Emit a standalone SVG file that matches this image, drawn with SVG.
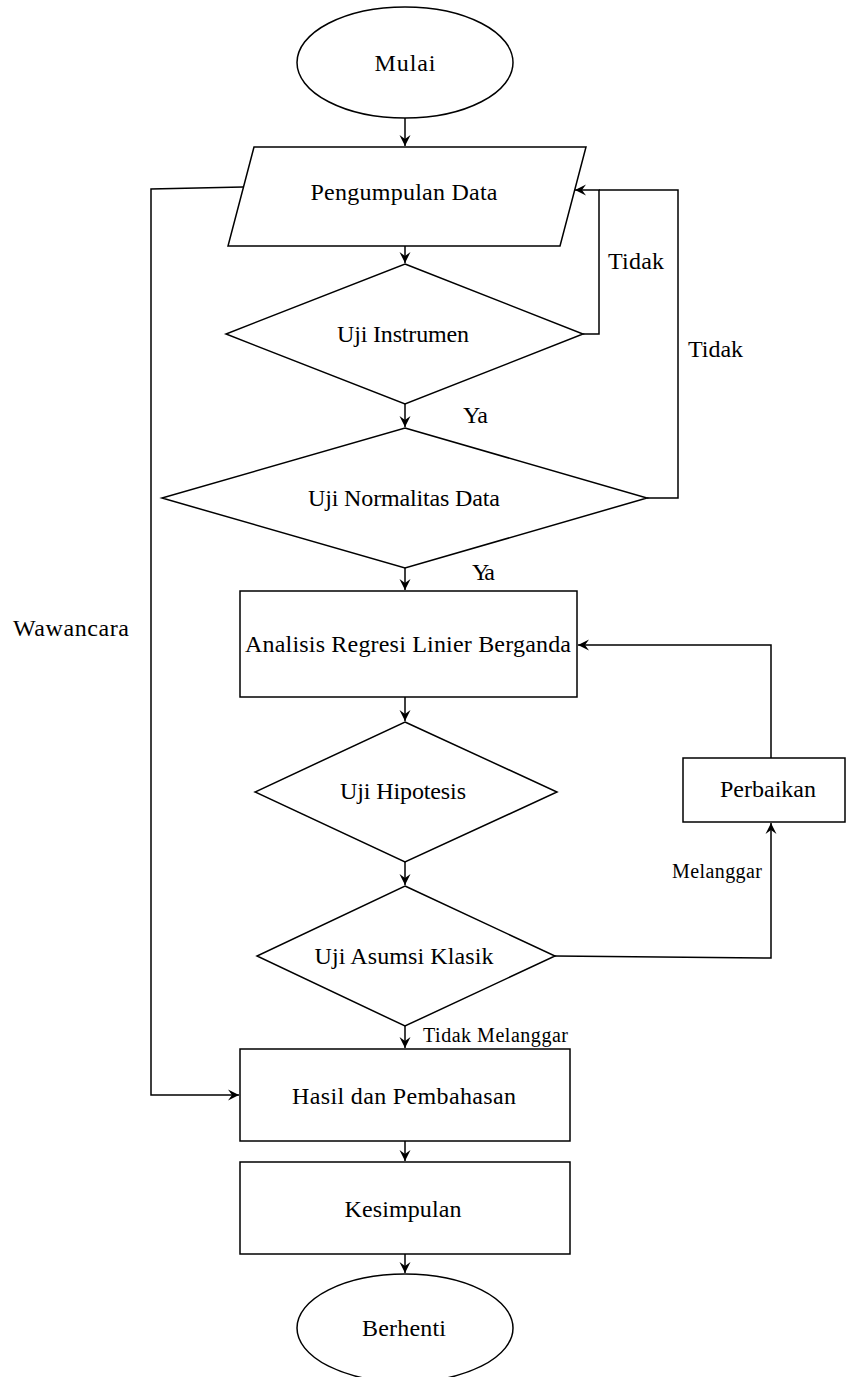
<svg xmlns="http://www.w3.org/2000/svg" width="846" height="1377" viewBox="0 0 846 1377">
<style>
.n{fill:#fff;stroke:#000;stroke-width:1.5}
.c{fill:none;stroke:#000;stroke-width:1.5}
text{font-family:"Liberation Serif","Times New Roman",serif;font-size:24px;fill:#000}
.m{text-anchor:middle}
.s{font-size:20px}
</style>
<defs>
<marker id="a" markerUnits="userSpaceOnUse" markerWidth="14" markerHeight="14" viewBox="-12 -7 14 14" refX="0" refY="0" orient="auto">
<path d="M0,0 L-11,-5.5 L-7,0 L-11,5.5 Z" fill="#000"/>
</marker>
</defs>
<rect width="846" height="1377" fill="#fff"/>
<g id="connectors">
<path class="c" d="M405,118 V146" marker-end="url(#a)"/>
<path class="c" d="M405,246 V263" marker-end="url(#a)"/>
<path class="c" d="M405,404 V427" marker-end="url(#a)"/>
<path class="c" d="M405,568 V590" marker-end="url(#a)"/>
<path class="c" d="M405,697 V721" marker-end="url(#a)"/>
<path class="c" d="M405,862 V885" marker-end="url(#a)"/>
<path class="c" d="M405,1026 V1048" marker-end="url(#a)"/>
<path class="c" d="M405,1141 V1161" marker-end="url(#a)"/>
<path class="c" d="M405,1254 V1273" marker-end="url(#a)"/>
<path class="c" d="M583,334 H599 V190 H575" marker-end="url(#a)"/>
<path class="c" d="M647,498 H678 V190 H599"/>
<path class="c" d="M555,956 L771,958 V823" marker-end="url(#a)"/>
<path class="c" d="M771,758 V645 H578" marker-end="url(#a)"/>
<path class="c" d="M243,187 L151,189 V1095 H239" marker-end="url(#a)"/>
<text x="608" y="269" textLength="56">Tidak</text>
<text x="688" y="357" textLength="55">Tidak</text>
<text x="463" y="423" textLength="25">Ya</text>
<text x="472" y="580" textLength="23">Ya</text>
<text x="13" y="636" textLength="116">Wawancara</text>
<text class="s" x="672" y="878" textLength="90">Melanggar</text>
<text class="s" x="423" y="1042" textLength="145">Tidak Melanggar</text>
</g>
<g id="mulai">
<ellipse class="n" cx="405" cy="62.5" rx="108" ry="55.5"/>
<text class="m" x="405" y="71" textLength="61">Mulai</text>
</g>
<g id="pengumpulan">
<polygon class="n" points="254,147 586,147 560,246 228,246"/>
<text class="m" x="404" y="200" textLength="187">Pengumpulan Data</text>
</g>
<g id="instrumen">
<polygon class="n" points="405,264 583,334 405,404 226,334"/>
<text class="m" x="403" y="342" textLength="132">Uji Instrumen</text>
</g>
<g id="normalitas">
<polygon class="n" points="405,428 647,498 405,568 162,498"/>
<text class="m" x="404" y="506" textLength="192">Uji Normalitas Data</text>
</g>
<g id="analisis">
<rect class="n" x="240" y="591" width="337" height="106"/>
<text class="m" x="408" y="652" textLength="326">Analisis Regresi Linier Berganda</text>
</g>
<g id="hipotesis">
<polygon class="n" points="405,722 557,792 405,862 255,792"/>
<text class="m" x="403" y="799" textLength="126">Uji Hipotesis</text>
</g>
<g id="perbaikan">
<rect class="n" x="683" y="758" width="162" height="64"/>
<text class="m" x="768" y="797" textLength="96">Perbaikan</text>
</g>
<g id="asumsi">
<polygon class="n" points="405,886 555,956 405,1026 257,956"/>
<text class="m" x="404" y="964" textLength="179">Uji Asumsi Klasik</text>
</g>
<g id="hasil">
<rect class="n" x="240" y="1049" width="330" height="92"/>
<text class="m" x="404" y="1104" textLength="224">Hasil dan Pembahasan</text>
</g>
<g id="kesimpulan">
<rect class="n" x="240" y="1162" width="330" height="92"/>
<text class="m" x="403" y="1217" textLength="117">Kesimpulan</text>
</g>
<g id="berhenti">
<ellipse class="n" cx="405" cy="1328" rx="108" ry="54"/>
<text class="m" x="404" y="1336" textLength="84">Berhenti</text>
</g>
</svg>
